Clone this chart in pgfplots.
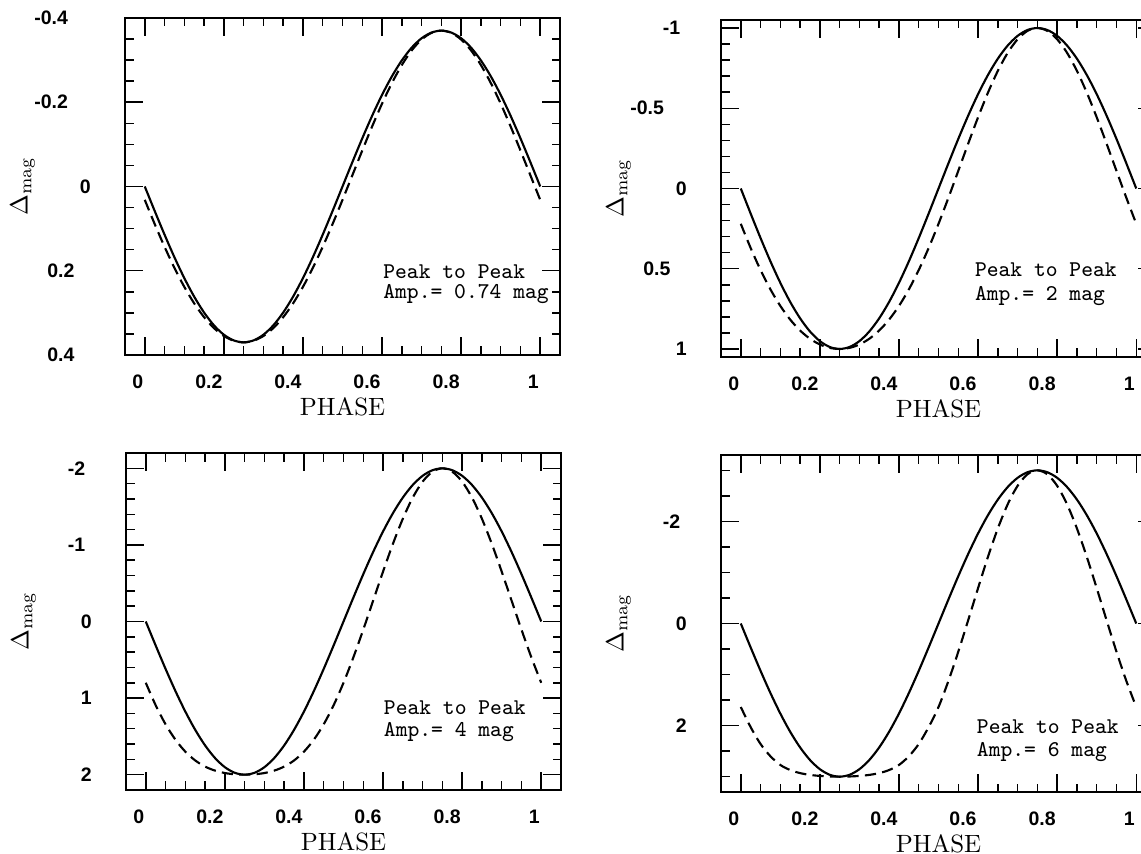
\documentclass[border=0pt]{standalone}
\usepackage{pgfplots}
\pgfplotsset{compat=1.18}
\usepackage{pgfplotstable}
\usepackage{fontspec}
\newfontfamily\ticksans{Liberation Sans}

% amp 0.74 mag
\pgfplotstableread{
phase solid dashed
0 0 0.0318
0.025 0.0579 0.0889
0.05 0.1143 0.1431
0.075 0.1680 0.1933
0.1 0.2175 0.2383
0.125 0.2616 0.2775
0.15 0.2993 0.3103
0.175 0.3297 0.3362
0.2 0.3519 0.3549
0.225 0.3654 0.3662
0.25 0.37 0.37
0.275 0.3654 0.3662
0.3 0.3519 0.3549
0.325 0.3297 0.3362
0.35 0.2993 0.3103
0.375 0.2616 0.2775
0.4 0.2175 0.2383
0.425 0.1680 0.1933
0.45 0.1143 0.1431
0.475 0.0579 0.0889
0.5 0 0.0318
0.525 -0.0579 -0.0268
0.55 -0.1143 -0.0855
0.575 -0.1680 -0.1427
0.6 -0.2175 -0.1967
0.625 -0.2616 -0.2457
0.65 -0.2993 -0.2883
0.675 -0.3297 -0.3231
0.7 -0.3519 -0.3489
0.725 -0.3654 -0.3647
0.75 -0.37 -0.37
0.775 -0.3654 -0.3647
0.8 -0.3519 -0.3489
0.825 -0.3297 -0.3231
0.85 -0.2993 -0.2883
0.875 -0.2616 -0.2457
0.9 -0.2175 -0.1967
0.925 -0.1680 -0.1427
0.95 -0.1143 -0.0855
0.975 -0.0579 -0.0268
1 0 0.0318
}\tabA

% amp 2 mag
\pgfplotstableread{
phase solid dashed
0 0 0.22
0.025 0.1564 0.3710
0.05 0.3090 0.5080
0.075 0.4540 0.6287
0.1 0.5878 0.7318
0.125 0.7071 0.8171
0.15 0.8090 0.8850
0.175 0.8910 0.9363
0.2 0.9511 0.9721
0.225 0.9877 0.9931
0.25 1 1
0.275 0.9877 0.9931
0.3 0.9511 0.9721
0.325 0.8910 0.9363
0.35 0.8090 0.8850
0.375 0.7071 0.8171
0.4 0.5878 0.7318
0.425 0.4540 0.6287
0.45 0.3090 0.5080
0.475 0.1564 0.3710
0.5 0 0.22
0.525 -0.1564 0.0582
0.55 -0.3090 -0.1100
0.575 -0.4540 -0.2793
0.6 -0.5878 -0.4438
0.625 -0.7071 -0.5971
0.65 -0.8090 -0.7330
0.675 -0.8910 -0.8457
0.7 -0.9511 -0.9301
0.725 -0.9877 -0.9823
0.75 -1 -1
0.775 -0.9877 -0.9823
0.8 -0.9511 -0.9301
0.825 -0.8910 -0.8457
0.85 -0.8090 -0.7330
0.875 -0.7071 -0.5971
0.9 -0.5878 -0.4438
0.925 -0.4540 -0.2793
0.95 -0.3090 -0.1100
0.975 -0.1564 0.0582
1 0 0.22
}\tabB

% amp 4 mag
\pgfplotstableread{
phase solid dashed
0 0 0.80
0.025 0.3128 1.0932
0.05 0.6180 1.3416
0.075 0.9080 1.5432
0.1 1.1756 1.6992
0.125 1.4142 1.8142
0.15 1.6180 1.8944
0.175 1.7820 1.9468
0.2 1.9022 1.9786
0.225 1.9754 1.9950
0.25 2 2
0.275 1.9754 1.9950
0.3 1.9022 1.9786
0.325 1.7820 1.9468
0.35 1.6180 1.8944
0.375 1.4142 1.8142
0.4 1.1756 1.6992
0.425 0.9080 1.5432
0.45 0.6180 1.3416
0.475 0.3128 1.0932
0.5 0 0.80
0.525 -0.3128 0.4676
0.55 -0.6180 0.1056
0.575 -0.9080 -0.2728
0.6 -1.1756 -0.6520
0.625 -1.4142 -1.0142
0.65 -1.6180 -1.3416
0.675 -1.7820 -1.6172
0.7 -1.9022 -1.8258
0.725 -1.9754 -1.9558
0.75 -2 -2
0.775 -1.9754 -1.9558
0.8 -1.9022 -1.8258
0.825 -1.7820 -1.6172
0.85 -1.6180 -1.3416
0.875 -1.4142 -1.0142
0.9 -1.1756 -0.6520
0.925 -0.9080 -0.2728
0.95 -0.6180 0.1056
0.975 -0.3128 0.4676
1 0 0.80
}\tabC

% amp 6 mag
\pgfplotstableread{
phase solid dashed
0 0 1.635
0.025 0.4692 2.030
0.05 0.9270 2.360
0.075 1.3620 2.600
0.1 1.7634 2.770
0.125 2.1213 2.870
0.15 2.4270 2.930
0.175 2.6730 2.965
0.2 2.8533 2.985
0.225 2.9631 2.996
0.25 3 3
0.275 2.9631 2.996
0.3 2.8533 2.985
0.325 2.6730 2.965
0.35 2.4270 2.930
0.375 2.1213 2.870
0.4 1.7634 2.770
0.425 1.3620 2.600
0.45 0.9270 2.360
0.475 0.4692 2.030
0.5 0 1.635
0.525 -0.4692 1.126
0.55 -0.9270 0.552
0.575 -1.3620 -0.064
0.6 -1.7634 -0.693
0.625 -2.1213 -1.304
0.65 -2.4270 -1.862
0.675 -2.6730 -2.336
0.7 -2.8533 -2.697
0.725 -2.9631 -2.923
0.75 -3 -3
0.775 -2.9631 -2.923
0.8 -2.8533 -2.697
0.825 -2.6730 -2.336
0.85 -2.4270 -1.862
0.875 -2.1213 -1.304
0.9 -1.7634 -0.693
0.925 -1.3620 -0.064
0.95 -0.9270 0.552
0.975 -0.4692 1.126
1 0 1.635
}\tabD

\pgfplotsset{
  panel/.style={
    scale only axis, width=174pt, height=134.8pt, anchor=north west,
    xmin=-0.05, xmax=1.05, y dir=reverse,
    xtick={0,0.2,0.4,0.6,0.8,1},
    minor xtick={0.05,0.1,0.15,0.25,0.3,0.35,0.45,0.5,0.55,0.65,0.7,0.75,0.85,0.9,0.95},
    axis line style={line width=0.8pt},
    tick style={line width=0.6pt, black},
    major tick length=7.2pt, minor tick length=3.4pt,
    xticklabel={\ticksans\bfseries\pgfmathprintnumber[assume math mode=true]{\tick}},
    yticklabel={\ticksans\bfseries\pgfmathprintnumber[assume math mode=true]{\tick}\hphantom{\pgfmathprintnumber[assume math mode=true]{\tick}}},
    ticklabel style={font=\fontsize{7.8}{9}\selectfont},
    xticklabel style={anchor=north east, inner xsep=0pt, xshift=-0.4pt, yshift=-4.6pt},
    yticklabel style={anchor=east, inner xsep=0pt, xshift=-9.2pt},
    xlabel={PHASE},
    xlabel style={at={(axis description cs:0.5,0)}, anchor=center, yshift=-20.8pt, font=\fontsize{10}{12}\selectfont},
    ylabel={$\Delta_{\mathrm{mag}}$},
    ylabel style={at={(axis description cs:-0.235,0.5)}, anchor=center, font=\fontsize{10}{12}\selectfont},
  },
  solidc/.style={black, line width=0.85pt, smooth},
  dashc/.style={black, line width=0.85pt, smooth, dash pattern=on 4.5pt off 2.5pt},
}
\tikzset{peak/.style={anchor=base west, inner sep=0pt, font=\ttfamily\fontsize{9}{10}\selectfont}}

\begin{document}
\begin{tikzpicture}
% top left
\begin{axis}[panel, at={(50pt,-7.2pt)},
  ymin=-0.4, ymax=0.4, ytick={-0.4,-0.2,0,0.2,0.4},
  minor ytick={-0.35,-0.3,-0.25,-0.15,-0.1,-0.05,0.05,0.1,0.15,0.25,0.3,0.35}]
\addplot[solidc] table[x=phase, y=solid] {\tabA};
\addplot[dashc] table[x=phase, y=dashed] {\tabA};
\node[peak] at (axis cs:0.602,0.219) {Peak to Peak};
\node[peak] at (axis cs:0.602,0.266) {Amp.= 0.74 mag};
\end{axis}
% top right
\begin{axis}[panel, at={(288.4pt,-8pt)},
  ymin=-1.05, ymax=1.05, ytick={-1,-0.5,0,0.5,1},
  minor ytick={-0.9,-0.8,-0.7,-0.6,-0.4,-0.3,-0.2,-0.1,0.1,0.2,0.3,0.4,0.6,0.7,0.8,0.9}]
\addplot[solidc] table[x=phase, y=solid] {\tabB};
\addplot[dashc] table[x=phase, y=dashed] {\tabB};
\node[peak] at (axis cs:0.591,0.551) {Peak to Peak};
\node[peak] at (axis cs:0.591,0.701) {Amp.= 2 mag};
\end{axis}
% bottom left
\begin{axis}[panel, at={(50.4pt,-181.2pt)},
  ymin=-2.2, ymax=2.2, ytick={-2,-1,0,1,2},
  minor ytick={-1.8,-1.6,-1.4,-1.2,-0.8,-0.6,-0.4,-0.2,0.2,0.4,0.6,0.8,1.2,1.4,1.6,1.8}]
\addplot[solidc] table[x=phase, y=solid] {\tabC};
\addplot[dashc] table[x=phase, y=dashed] {\tabC};
\node[peak] at (axis cs:0.601,1.208) {Peak to Peak};
\node[peak] at (axis cs:0.601,1.508) {Amp.= 4 mag};
\end{axis}
% bottom right
\begin{axis}[panel, at={(288.4pt,-182pt)},
  ymin=-3.3, ymax=3.3, ytick={-2,0,2},
  minor ytick={-3,-2.5,-1.5,-1,-0.5,0.5,1,1.5,2.5,3}]
\addplot[solidc] table[x=phase, y=solid] {\tabD};
\addplot[dashc] table[x=phase, y=dashed] {\tabD};
\node[peak] at (axis cs:0.596,2.145) {Peak to Peak};
\node[peak] at (axis cs:0.596,2.595) {Amp.= 6 mag};
\end{axis}
\pgfresetboundingbox
\useasboundingbox (0,0) rectangle (456.4pt,-341.6pt);
\end{tikzpicture}
\end{document}
